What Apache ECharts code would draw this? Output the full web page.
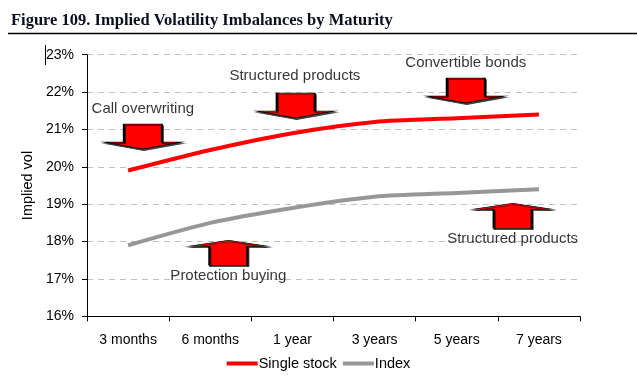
<!DOCTYPE html>
<html>
<head>
<meta charset="utf-8">
<script src="https://cdn.jsdelivr.net/npm/echarts@6/dist/echarts.min.js"></script>
<style>
html,body{margin:0;padding:0;background:#fff;}
#chart{width:637px;height:381px;}
</style>
</head>
<body>
<div id="chart"></div>
<script>
// ---- data ----
const categories = ['3 months', '6 months', '1 year', '3 years', '5 years', '7 years'];
const singleStock = [19.9, 20.45, 20.9, 21.2, 21.3, 21.4];
const indexVol = [17.9, 18.5, 18.9, 19.2, 19.3, 19.4];
const yMin = 16, yMax = 23, yStep = 1;

// annotations (category-index position, vol level)
const annotationTexts = ['Call overwriting', 'Structured products', 'Convertible bonds', 'Protection buying', 'Structured products'];
const annotationTextAt = [[0.18, 21.55], [2.03, 22.43], [4.11, 22.77], [1.22, 17.08], [4.68, 18.07]];
const arrowDirections = ['down', 'down', 'down', 'up', 'up'];
const arrowAt = [[0.18, 20.81], [2.04, 21.64], [4.11, 22.04], [1.22, 17.70], [4.68, 18.69]];

const DOWN_ARROW = 'path://M20 0 L58 0 L58 18 L78 18 L39 25 L0 18 L20 18 Z';
const UP_ARROW = 'path://M39 0 L78 6 L58 6 L58 25 L20 25 L20 6 L0 6 Z';

const chart = echarts.init(document.getElementById('chart'), null, {renderer: 'canvas'});
const font = 'Liberation Sans, Arial, sans-serif';

const option = {
  backgroundColor: '#fff',
  animation: false,
  title: {
    text: 'Figure 109. Implied Volatility Imbalances by Maturity',
    left: 11, top: 12, padding: 0,
    textStyle: {fontFamily: 'Liberation Serif, Times New Roman, serif', fontWeight: 'bold', fontSize: 16.5, color: '#0b1020'}
  },
  graphic: [
    {type: 'line', shape: {x1: 8, y1: 33.5, x2: 637, y2: 33.5}, style: {stroke: '#000', lineWidth: 1.5}},
    {type: 'line', shape: {x1: 45.5, y1: 45, x2: 45.5, y2: 65}, style: {stroke: '#000', lineWidth: 1}}
  ],
  grid: {left: 87, right: 57, top: 54.7, bottom: 64.7, containLabel: false},
  legend: {
    bottom: 5, left: 'center',
    icon: 'rect', itemWidth: 31, itemHeight: 4, itemGap: 6,
    textStyle: {fontFamily: font, fontSize: 14.5, color: '#000', padding: [0, 0, 0, -4]},
    data: ['Single stock', 'Index']
  },
  xAxis: [
    {
      type: 'category', data: categories, boundaryGap: true,
      axisLine: {onZero: false, lineStyle: {color: '#000', width: 1}},
      axisTick: {show: true, length: 5, lineStyle: {color: '#000'}},
      axisLabel: {fontFamily: font, fontSize: 14, color: '#000', margin: 17},
      splitLine: {show: false}
    },
    {type: 'value', min: -0.5, max: 5.5, show: false}
  ],
  yAxis: {
    type: 'value', min: yMin, max: yMax, interval: yStep,
    name: 'Implied vol', nameLocation: 'middle', nameGap: 50, nameRotate: 90,
    nameTextStyle: {fontFamily: font, fontSize: 14.5, color: '#000'},
    axisLine: {show: true, onZero: false, lineStyle: {color: '#000', width: 1}},
    axisTick: {show: true, length: 5, lineStyle: {color: '#000'}},
    axisLabel: {fontFamily: font, fontSize: 14, color: '#000', margin: 13, formatter: '{value}%'},
    splitLine: {show: true, lineStyle: {color: '#c0c0c0', type: [6, 5], width: 1}}
  },
  series: [
    {
      name: 'Single stock', type: 'line', data: singleStock, smooth: 0.25,
      symbol: 'none', lineStyle: {color: '#ff0000', width: 4}, itemStyle: {color: '#ff0000'}, z: 3
    },
    {
      name: 'Index', type: 'line', data: indexVol, smooth: 0.25,
      symbol: 'none', lineStyle: {color: '#979797', width: 4}, itemStyle: {color: '#979797'}, z: 3
    },
    {
      name: 'arrows', type: 'scatter', xAxisIndex: 1, yAxisIndex: 0, silent: true, z: 4,
      data: arrowAt.map((p, i) => ({
        value: p,
        symbol: arrowDirections[i] === 'down' ? DOWN_ARROW : UP_ARROW,
        symbolSize: [78, 25]
      })),
      itemStyle: {color: '#ff0000', borderColor: '#000', borderWidth: 1.2, shadowColor: 'rgba(0,0,0,0.7)', shadowOffsetX: 1, shadowOffsetY: 1.5, shadowBlur: 0, opacity: 1}
    },
    {
      name: 'notes', type: 'scatter', xAxisIndex: 1, yAxisIndex: 0, silent: true, z: 5,
      symbol: 'rect', symbolSize: 1,
      itemStyle: {color: 'rgba(0,0,0,0)'},
      data: annotationTextAt.map((p, i) => ({value: p, name: annotationTexts[i]})),
      label: {show: true, position: 'inside', formatter: '{b}', fontFamily: font, fontSize: 15, color: '#000'}
    }
  ]
};
chart.setOption(option);
</script>
</body>
</html>
